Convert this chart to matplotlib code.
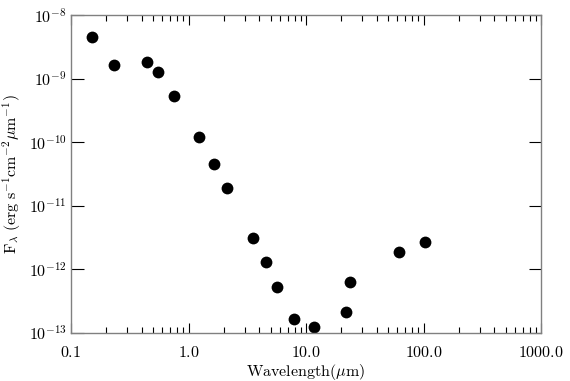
import numpy as np
import matplotlib
matplotlib.use("Agg")
import matplotlib.pyplot as plt
from matplotlib.ticker import FixedLocator, FixedFormatter, LogLocator, NullFormatter

# SED points
wavelength = [0.15, 0.23, 0.44, 0.55, 0.75, 1.23, 1.65, 2.13, 3.54, 4.57,
              5.66, 7.9, 11.7, 21.9, 23.7, 61.7, 103.0]
flux = [4.5e-9, 1.64e-9, 1.82e-9, 1.27e-9, 5.3e-10, 1.21e-10, 4.5e-11, 1.9e-11,
        3.1e-12, 1.3e-12, 5.3e-13, 1.66e-13, 1.24e-13, 2.14e-13, 6.3e-13,
        1.88e-12, 2.7e-12]

x_ticks = [0.1, 1.0, 10.0, 100.0, 1000.0]
x_labels = ['0.1', '1.0', '10.0', '100.0', '1000.0']
y_ticks = [1e-13, 1e-12, 1e-11, 1e-10, 1e-9, 1e-8]
y_labels = [r'$10^{-13}$', r'$10^{-12}$', r'$10^{-11}$', r'$10^{-10}$', r'$10^{-9}$', r'$10^{-8}$']

plt.rcParams['mathtext.fontset'] = 'cm'
plt.rcParams['font.family'] = 'serif'
plt.rcParams['font.serif'] = ['DejaVu Serif']

fig = plt.figure(figsize=(5.7, 3.81), dpi=100)
ax = fig.add_axes([0.1246, 0.126, 0.8246, 0.8346])

ax.plot(wavelength, flux, 'o', color='black', markersize=8.5, markeredgewidth=0)

ax.set_xscale('log')
ax.set_yscale('log')
ax.set_xlim(0.1, 1000)
ax.set_ylim(1e-13, 1e-8)

ax.xaxis.set_major_locator(FixedLocator(x_ticks))
ax.xaxis.set_major_formatter(FixedFormatter([r'$\mathrm{%s}$' % s for s in x_labels]))
ax.xaxis.set_minor_locator(LogLocator(base=10, subs=np.arange(2, 10)))
ax.xaxis.set_minor_formatter(NullFormatter())
ax.yaxis.set_major_locator(FixedLocator(y_ticks))
ax.yaxis.set_major_formatter(FixedFormatter(y_labels))
ax.yaxis.set_minor_locator(FixedLocator([]))

ax.tick_params(which='both', direction='in', top=True, right=True, labelsize=11.5, color='black')
ax.tick_params(axis='x', which='major', length=7, width=0.8, pad=8)
ax.tick_params(axis='x', which='minor', length=4, width=0.8)
ax.tick_params(axis='y', which='major', length=9, width=0.8, pad=3)

for sp in ax.spines.values():
    sp.set_color('#808080')
    sp.set_linewidth(1.0)

ax.set_xlabel(r'$\mathrm{Wavelength(}\mu\mathrm{m)}$', fontsize=11.5, labelpad=1)
ax.set_ylabel(r'$\mathrm{F}_\lambda\ \mathrm{(erg\ s^{-1}cm^{-2}}\mu\mathrm{m^{-1})}$', fontsize=11.5, labelpad=4)

fig.savefig('out.png', dpi=100)
